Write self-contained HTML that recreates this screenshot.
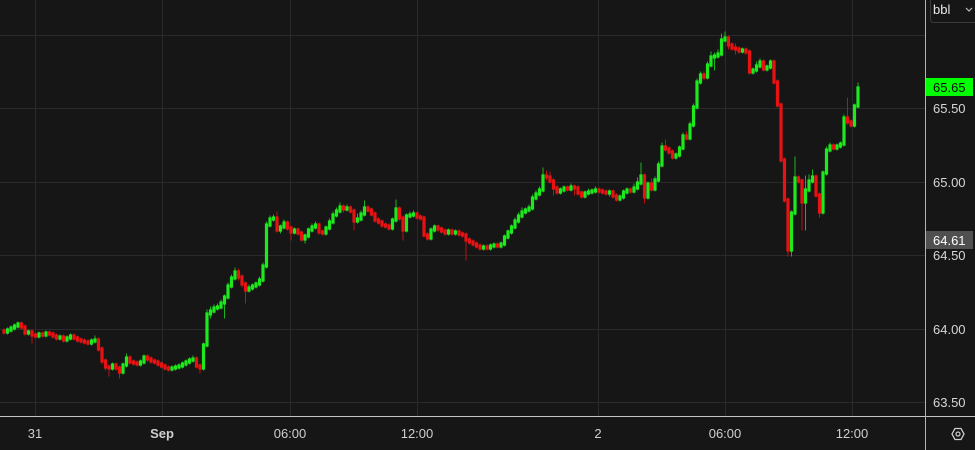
<!DOCTYPE html>
<html><head><meta charset="utf-8"><style>
html,body{margin:0;padding:0;background:#161616;width:975px;height:450px;overflow:hidden}
svg{display:block}
text{font-family:"Liberation Sans",sans-serif}
.ax{font-family:"Liberation Sans Narrow","Liberation Sans",sans-serif;font-size:13px;fill:#cfcfcf}
.py{font-size:13px;fill:#d6d6d6}
</style></head><body>
<svg width="975" height="450" xmlns="http://www.w3.org/2000/svg">
<rect width="975" height="450" fill="#161616"/>
<g stroke="#2a2a2a" stroke-width="1">
<line x1="0" y1="35.5" x2="925" y2="35.5"/>
<line x1="0" y1="108.5" x2="925" y2="108.5"/>
<line x1="0" y1="182.5" x2="925" y2="182.5"/>
<line x1="0" y1="255.5" x2="925" y2="255.5"/>
<line x1="0" y1="329.5" x2="925" y2="329.5"/>
<line x1="0" y1="402.5" x2="925" y2="402.5"/>
<line x1="35.5" y1="0" x2="35.5" y2="416"/>
<line x1="162.5" y1="0" x2="162.5" y2="416"/>
<line x1="290.5" y1="0" x2="290.5" y2="416"/>
<line x1="417.5" y1="0" x2="417.5" y2="416"/>
<line x1="598.5" y1="0" x2="598.5" y2="416"/>
<line x1="725.5" y1="0" x2="725.5" y2="416"/>
<line x1="852.5" y1="0" x2="852.5" y2="416"/>
</g>
<!-- green wicks -->
<path fill="none" stroke="#1cb41c" stroke-width="1" stroke-linecap="square" d="M7.5 328V334M11 326V332M14.5 324V330M18 322V328M28.5 330V335M39 332V338M46 331V337M60 335V340M67 336V342M70.5 334V340M91.5 339V345M95 336V343M112.5 363V370M123 363V374M126.5 354V367M140.5 360V366M144 355V364M172 366V371M175.5 365V370M179 364V369M182.5 362V368M186 360V366M189.5 358V364M193 356V362M203.5 343V370M207 310V347M210.5 307V318M214 305V313M217.5 304V310M221 300V309M224.5 295V318M228 283V299M231.5 275V288M235 268V280M249 285V292M252.5 284V290M256 282V288M259.5 277V286M263 263V282M266.5 222V268M270 216V227M273.5 215V221M280.5 225V233M284 220V229M294.5 228V234M305 234V243M308.5 228V238M312 224V232M315.5 222V229M326 226V235M329.5 219V230M333 212V224M336.5 208V217M340 203V213M347 205V211M357.5 214V223M361 211V221M364.5 201V216M392.5 218V230M396 200V222M406.5 214V232M410 212V218M413.5 211V217M431 228V240M434.5 225V232M448.5 229V235M455.5 230V235M483.5 245V250M490.5 244V250M494 243V248M501 242V248M504.5 235V246M508 230V239M511.5 225V234M515 218V229M518.5 213V223M522 208V218M525.5 208V214M529 205V212M532.5 195V210M536 191V200M539.5 187V196M543 168V192M560.5 188V194M564 186V192M571 184V191M585 191V198M588.5 189V195M592 189V194M595.5 187V193M609.5 190V196M620 195V201M623.5 190V199M627 188V194M634 184V193M637.5 178V190M641 163V185M648 182V199M655 177V191M658.5 162V182M662 143V167M676 153V159M679.5 146V157M683 133V150M690 122V140M693.5 104V127M697 79V109M700.5 72V84M707.5 62V79M711 52V67M714.5 53V70M718 50V58M721.5 34V56M725 32V42M742.5 48V53M753 68V74M756.5 62V72M760 59V68M767 65V71M770.5 60V69M791.5 211V256M795 157V215M805.5 176V230M809 175V192M812.5 170V183M823 171V214M826.5 147V175M830 143V152M837 144V150M840.5 142V148M844 115V146M854.5 104V127M858 83V108"/>
<!-- red wicks -->
<path fill="none" stroke="#bb1212" stroke-width="1" stroke-linecap="square" d="M4 329V334M21.5 322V329M25 325V335M32 330V343M35.5 333V338M42.5 332V337M49.5 331V336M53 332V338M56.5 334V340M63.5 335V342M74 334V340M77.5 336V342M81 338V343M84.5 339V344M88 340V345M98.5 338V351M102 347V364M105.5 359V370M109 365V376M116 363V370M119.5 366V378M130 356V364M133.5 360V365M137 361V366M147.5 355V361M151 357V363M154.5 359V364M158 360V366M161.5 362V368M165 364V370M168.5 366V371M196.5 357V368M200 364V373M238.5 269V280M242 275V287M245.5 282V303M277 212V232M287.5 221V230M291 226V240M298 228V235M301.5 231V241M319 223V234M322.5 230V235M343.5 205V212M350.5 206V213M354 209V230M368 206V212M371.5 208V216M375 212V222M378.5 218V224M382 220V227M385.5 223V228M389 224V230M399.5 207V220M403 216V240M417 212V219M420.5 215V220M424 216V237M427.5 233V240M438 225V231M441.5 227V233M445 229V235M452 229V235M459 230V236M462.5 232V237M466 233V260M469.5 238V244M473 240V246M476.5 242V248M480 244V250M487 245V250M497.5 243V248M546.5 171V180M550 172V183M553.5 179V195M557 186V194M567.5 186V191M574.5 185V195M578 186V195M581.5 191V198M599 188V193M602.5 189V194M606 190V195M613 190V198M616.5 194V201M630.5 188V193M644.5 174V203M651.5 179V191M665.5 140V151M669 147V154M672.5 150V159M686.5 132V140M704 72V80M728.5 36V49M732 43V50M735.5 44V54M739 47V53M746 48V54M749.5 50V74M763.5 60V71M774 60V84M777.5 80V107M781 103V162M784.5 158V202M788 198V256M798.5 176V183M802 179V230M816 175V197M819.5 193V217M833.5 144V150M847.5 98V124M851 120V127"/>
<!-- green bodies -->
<path fill="none" stroke="#1ee81e" stroke-width="3.2" stroke-linecap="square" d="M7.5 330V332M11 328V330M14.5 326V328M18 324V326M28.5 332V333M39 334V336M46 333V335M60 337V338M67 338V340M70.5 336V338M91.5 341V343M95 340V341M112.5 365V368M123 365V372M126.5 358V365M140.5 362V364M144 357V362M172 368V369M175.5 367V368M179 366V367M182.5 364V366M186 362V364M189.5 360V362M193 359V360M203.5 345V368M207 314V345M210.5 311V314M214 308V311M217.5 307V308M221 303V307M224.5 297V303M228 286V297M231.5 278V286M235 272V278M249 288V290M252.5 286V288M256 284V286M259.5 280V284M263 266V280M266.5 225V266M270 219V225M273.5 218V219M280.5 227V230M284 223V227M294.5 230V232M305 236V239M308.5 230V236M312 227V230M315.5 225V227M326 228V233M329.5 222V228M333 215V222M336.5 211V215M340 207V211M347 208V209M357.5 219V221M361 214V219M364.5 208V214M392.5 220V228M396 209V220M406.5 216V230M410 215V216M413.5 214V215M431 230V238M434.5 227V230M448.5 231V233M455.5 232V233M483.5 247V248M490.5 246V248M494 245V246M501 244V246M504.5 237V244M508 232V237M511.5 227V232M515 221V227M518.5 216V221M522 212V216M525.5 210V212M529 208V210M532.5 198V208M536 194V198M539.5 190V194M543 176V190M560.5 190V192M564 188V190M571 187V189M585 193V196M588.5 192V193M592 191V192M595.5 190V191M609.5 192V193M620 197V199M623.5 192V197M627 190V192M634 188V191M637.5 183V188M641 176V183M648 184V197M655 180V189M658.5 165V180M662 147V165M676 155V157M679.5 148V155M683 136V148M690 125V138M693.5 107V125M697 82V107M700.5 75V82M707.5 65V77M711 57V65M714.5 56V57M718 54V56M721.5 40V54M725 38V40M742.5 50V51M753 70V72M756.5 66V70M760 62V66M767 67V69M770.5 62V67M791.5 213V250M795 178V213M805.5 190V202M809 181V190M812.5 177V181M823 173V212M826.5 150V173M830 146V150M837 146V148M840.5 144V146M844 118V144M854.5 106V125M858 88V106"/>
<!-- red bodies -->
<path fill="none" stroke="#e81212" stroke-width="3.2" stroke-linecap="square" d="M4 331V332M21.5 324V327M25 327V333M32 332V335M35.5 335V336M42.5 334V335M49.5 333V334M53 334V336M56.5 336V338M63.5 337V340M74 336V338M77.5 338V340M81 340V341M84.5 341V342M88 342V343M98.5 340V349M102 349V361M105.5 361V367M109 367V368M116 365V368M119.5 368V372M130 358V362M133.5 362V363M137 363V364M147.5 357V359M151 359V361M154.5 361V362M158 362V364M161.5 364V366M165 366V368M168.5 368V369M196.5 359V366M200 366V368M238.5 272V277M242 277V284M245.5 284V290M277 218V230M287.5 223V228M291 228V232M298 230V233M301.5 233V239M319 225V232M322.5 232V233M343.5 207V209M350.5 208V211M354 211V221M368 208V210M371.5 210V214M375 214V220M378.5 220V222M382 222V225M385.5 225V226M389 226V228M399.5 209V218M403 218V230M417 214V217M420.5 217V218M424 218V235M427.5 235V238M438 227V229M441.5 229V231M445 231V233M452 231V233M459 232V234M462.5 234V235M466 235V240M469.5 240V242M473 242V244M476.5 244V246M480 246V248M487 247V248M497.5 245V246M546.5 176V177M550 177V181M553.5 181V188M557 188V192M567.5 188V189M574.5 187V188M578 188V193M581.5 193V196M599 190V191M602.5 191V192M606 192V193M613 192V196M616.5 196V199M630.5 190V191M644.5 176V197M651.5 184V189M665.5 147V149M669 149V152M672.5 152V157M686.5 136V138M704 75V77M728.5 38V45M732 45V48M735.5 48V49M739 49V51M746 50V52M749.5 52V72M763.5 62V69M774 62V82M777.5 82V105M781 105V160M784.5 160V200M788 200V250M798.5 178V181M802 181V202M816 177V195M819.5 195V212M833.5 146V148M847.5 118V122M851 122V125"/>
<line x1="0" y1="416.5" x2="975" y2="416.5" stroke="#c4c4c4" stroke-width="1"/>
<line x1="925.5" y1="0" x2="925.5" y2="450" stroke="#b4b4b4" stroke-width="1"/>
<text class="py" x="933" y="113">65.50</text>
<text class="py" x="933" y="187">65.00</text>
<text class="py" x="933" y="334">64.00</text>
<text class="py" x="933" y="407">63.50</text>
<text class="py" x="933" y="260">64.50</text>
<rect x="926" y="231" width="47" height="18" fill="#505050"/>
<text x="933" y="245" font-size="13" fill="#ffffff">64.61</text>
<rect x="926" y="78" width="47" height="18" fill="#00ff00"/>
<text x="933" y="92" font-size="13" fill="#0c0c0c">65.65</text>
<path d="M930.5,-2 V19 Q930.5,22.5 934,22.5 H975" fill="none" stroke="#3a3a3a" stroke-width="1"/>
<text x="933" y="14" font-size="13" fill="#e8e8e8">bbl</text>
<path d="M966,8 L969,11 L972,8" fill="none" stroke="#bbbbbb" stroke-width="1.2"/>
<text class="ax" x="35" y="438" text-anchor="middle">31</text>
<text class="ax" x="162" y="438" text-anchor="middle" font-weight="bold">Sep</text>
<text class="ax" x="290" y="438" text-anchor="middle">06:00</text>
<text class="ax" x="417" y="438" text-anchor="middle">12:00</text>
<text class="ax" x="598" y="438" text-anchor="middle">2</text>
<text class="ax" x="725" y="438" text-anchor="middle">06:00</text>
<text class="ax" x="852" y="438" text-anchor="middle">12:00</text>
<polygon points="952,434 955,428.5 961,428.5 964,434 961,439.5 955,439.5" fill="none" stroke="#cfcfcf" stroke-width="1.3"/>
<circle cx="958" cy="434" r="2" fill="none" stroke="#cfcfcf" stroke-width="1.2"/>
</svg>
</body></html>
